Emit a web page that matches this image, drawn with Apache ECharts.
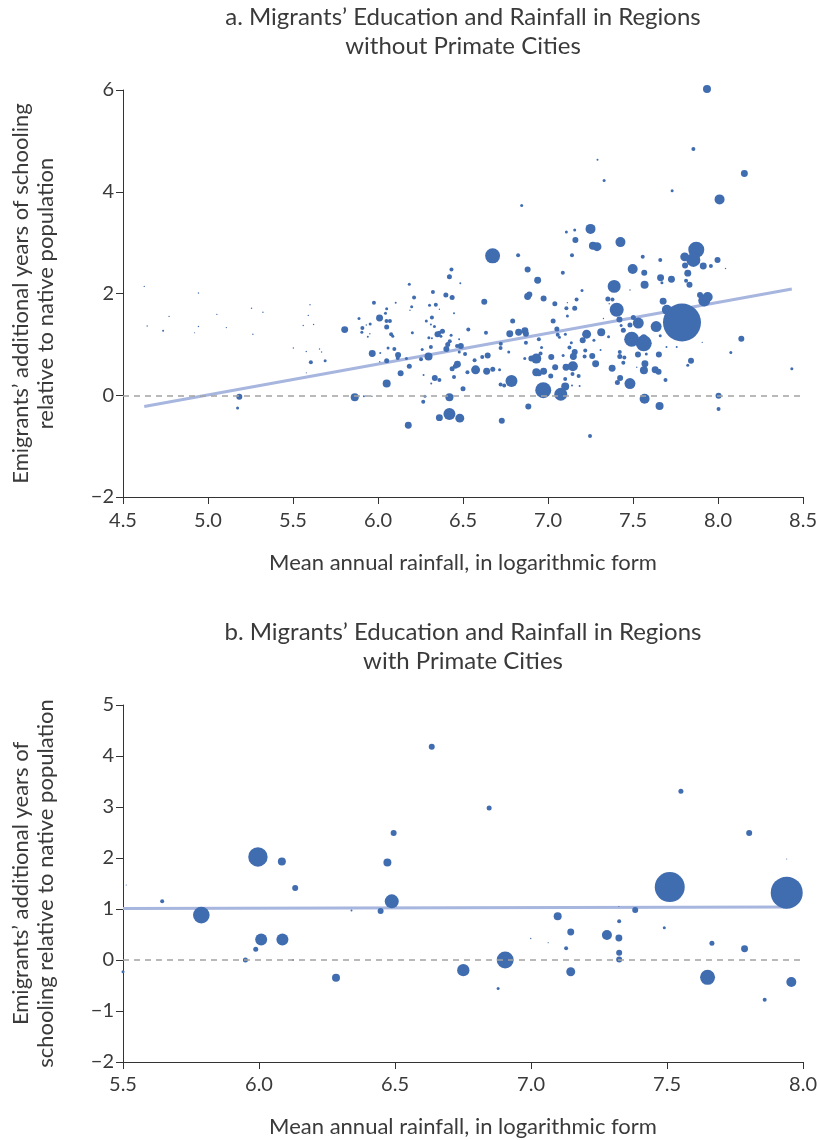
<!DOCTYPE html>
<html><head><meta charset="utf-8">
<script src="https://cdn.jsdelivr.net/npm/echarts@6/dist/echarts.min.js"></script>
<style>html,body{margin:0;padding:0;background:#fff}#c{width:820px;height:1140px}</style>
</head><body><div id="c"></div>
<script>
// ---------- Panel a: regions without primate cities ----------
const titleA = 'a. Migrants’ Education and Rainfall in Regions\nwithout Primate Cities';
const yNameA = 'Emigrants’ additional years of schooling\nrelative to native population';
const xName = 'Mean annual rainfall, in logarithmic form';
const xTicksA = [4.5, 8.5, 0.5];
const yTicksA = [-2, 6, 2];
// [log rainfall, additional years of schooling, relative population weight]
const pointsA = [
[4.625,2.14,0.5],[4.642,1.36,0.5],[4.736,1.27,1],[4.771,1.55,0.5],[4.944,2.01,0.5],[4.944,1.35,0.5],[4.921,1.23,0.3],
[5.052,1.59,0.5],[5.108,1.33,0.5],[5.184,-0.03,9],[5.174,-0.25,2.25],[5.256,1.71,0.5],[5.264,1.20,0.5],[5.323,1.63,0.5],
[5.502,0.93,0.5],[5.56,1.37,0.5],[5.60,1.78,0.5],[5.59,1.57,0.5],[5.621,1.39,0.5],[5.578,0.86,0.5],[5.605,0.65,4],
[5.656,0.91,0.5],[5.668,0.85,0.5],[5.689,0.68,2.25],[5.578,0.44,0.3],[5.804,1.29,12],
[5.863,-0.04,16],[5.917,-0.02,1],[5.964,-0.02,0.5],[5.976,1.82,4],[5.888,1.51,2.25],[5.908,1.32,4],[5.905,1.24,2.25],
[5.931,1.38,0.5],[5.954,1.40,2.25],[5.952,1.21,0.5],[5.94,1.15,1],[6.009,1.52,12],[6.044,1.61,2.25],[6.051,1.70,2.25],
[6.05,1.46,4],[6.07,1.46,4],[6.051,1.34,6.25],[6.077,1.20,4],[6.087,1.16,2.25],[6.104,1.82,1],[6.184,2.18,2.25],
[6.212,1.92,4],[6.198,1.74,2.25],[6.188,1.67,0.5],[5.966,0.82,12],[6.013,0.83,1],[6.051,0.68,6.25],[6.059,0.93,2.25],
[6.096,0.91,4],[6.118,0.79,9],[6.116,0.73,4],[6.167,0.72,2.25],[6.01,0.66,0.5],[6.184,0.57,6.25],[6.133,0.43,9],
[6.051,0.23,16],[6.202,1.23,2.25],[6.268,0.40,1],[6.253,0.71,4],[6.26,0.90,2.25],[6.297,0.76,16],[6.323,2.03,4],
[6.303,1.77,2.25],[6.34,1.78,4],[6.361,1.69,0.5],[6.284,1.46,2.25],[6.317,1.53,4],[6.311,1.39,1],[6.332,1.35,2.25],
[6.299,1.13,2.25],[6.317,1.12,1],[6.311,0.95,4],[6.334,0.34,9],[6.361,0.30,4],[6.313,0.23,1],[6.276,-0.02,2.25],
[6.266,-0.13,4],[6.35,1.20,9],[6.361,1.23,4],[6.379,1.26,6.25],[6.37,1.16,2.25],[6.399,1.97,6.25],[6.42,2.33,6.25],
[6.432,2.47,4],[6.436,1.92,6.25],[6.447,1.61,1],[6.484,2.20,1],[6.43,1.18,2.25],[6.422,1.06,4],[6.41,1.00,6.25],
[6.402,0.91,9],[6.477,1.10,1],[6.465,0.97,4],[6.487,0.97,9],[6.478,0.85,2.25],[6.512,0.81,4],[6.531,1.29,4],
[6.467,0.61,12],[6.455,0.57,6.25],[6.436,0.52,6.25],[6.447,0.36,4],[6.5,0.13,6.25],[6.42,-0.04,16],[6.42,-0.37,36],
[6.361,-0.44,12],[6.481,-0.45,20],[6.178,-0.59,12],[6.568,0.69,4],[6.574,0.50,20],[6.526,0.45,4],[6.625,1.84,9],
[6.635,1.23,4],[6.613,0.75,4],[6.645,0.78,9],[6.639,0.47,12],[6.675,0.51,6.25],[6.715,0.50,2.25],[6.722,1.01,4],
[6.721,0.93,4],[6.769,0.85,2.25],[6.775,1.21,12],[6.792,1.46,6.25],[6.785,0.28,36],[6.721,0.21,4],[6.742,0.19,4],
[6.728,-0.50,9],[6.827,1.24,12],[6.864,1.27,12],[6.87,1.21,9],[6.87,1.03,4],[6.88,1.94,12],[6.89,1.98,9],
[6.939,2.26,12],[6.974,1.90,9],[6.88,2.47,9],[6.946,1.10,4],[6.962,0.94,2.25],[6.863,0.72,2.25],[6.902,0.72,9],
[6.931,0.72,25],[6.956,0.82,4],[6.931,0.45,16],[6.974,0.47,12],[6.946,0.43,9],[7.019,0.75,9],[7.042,0.55,9],
[7.016,0.38,6.25],[6.972,0.10,64],[6.884,-0.22,9],[7.075,0.02,42],[7.101,0.17,16],[7.04,1.80,6.25],[7.087,2.41,4],
[7.03,1.46,6.25],[7.052,1.30,6.25],[7.057,1.19,4],[7.067,1.14,2.25],[7.108,1.71,4],[7.106,0.55,12],[7.101,0.32,4],
[7.25,3.27,25],[7.108,3.21,2.25],[7.157,3.25,2.25],[7.161,3.05,9],[7.141,2.75,4],[7.264,2.94,16],[7.288,2.92,20],
[7.426,3.01,25],[7.2,2.06,2.25],[7.168,1.88,4],[7.114,1.82,0.5],[7.157,1.71,6.25],[7.114,1.56,2.25],[7.102,1.20,2.25],
[7.227,1.20,20],[7.204,1.08,9],[7.27,1.08,2.25],[7.313,1.24,16],[7.356,1.15,2.25],[7.137,1.03,2.25],[7.126,0.94,4],
[7.157,0.85,9],[7.149,0.76,12],[7.089,0.78,2.25],[7.215,0.76,4],[7.219,0.88,4],[7.26,0.77,9],[7.309,0.89,1],
[7.146,0.57,25],[7.28,0.62,12],[7.144,0.42,4],[7.18,0.38,4],[7.141,0.19,1],[7.186,0.18,1],[7.247,-0.80,4],
[7.389,2.14,42],[7.498,2.48,25],[7.566,2.41,9],[7.557,2.72,4],[7.66,2.66,4],[7.662,2.31,12],[7.67,2.21,2.25],
[7.726,2.28,12],[7.568,2.17,16],[7.482,2.07,0.5],[7.404,1.68,49],[7.352,1.89,6.25],[7.379,1.88,4],[7.36,1.80,0.5],
[7.42,1.49,9],[7.326,1.51,0.5],[7.502,1.53,6.25],[7.531,1.42,30],[7.482,1.38,6.25],[7.43,1.37,2.25],[7.443,1.28,6.25],
[7.492,1.10,56],[7.563,1.02,64],[7.563,1.14,9],[7.636,1.35,30],[7.66,1.17,2.25],[7.677,1.85,12],[7.699,1.68,25],
[7.788,1.43,361],[7.872,2.86,64],[7.855,2.66,49],[7.804,2.72,20],[7.806,2.55,9],[7.913,2.54,12],[7.958,2.54,4],
[7.997,2.66,9],[8.044,2.49,0.5],[7.822,2.40,12],[7.812,2.25,4],[7.832,2.17,9],[7.894,1.97,9],[7.919,1.86,36],
[7.939,1.93,25],[7.697,0.95,1],[7.757,0.95,1],[7.907,1.04,0.5],[8.137,1.11,9],[8.075,0.84,2.25],[8.434,0.52,2.25],
[7.841,0.68,9],[7.822,0.59,2.25],[7.529,0.80,9],[7.578,0.81,2.25],[7.652,0.80,9],[7.422,0.85,4],[7.422,0.76,6.25],
[7.449,0.74,4],[7.443,0.64,4],[7.377,0.53,12],[7.522,0.55,0.5],[7.57,0.62,12],[7.564,0.49,16],[7.63,0.50,12],
[7.65,0.46,9],[7.691,0.30,4],[7.424,0.34,9],[7.408,0.25,6.25],[7.482,0.23,30],[7.568,-0.07,25],[7.656,-0.21,16],
[8.003,-0.01,9],[8.003,-0.27,4],
[7.935,6.02,16],[7.855,4.84,4],[8.155,4.36,12],[8.009,3.85,25],[7.73,4.02,2.25],[7.291,4.63,1],[7.33,4.22,2.25],
[6.845,3.73,2.25],[6.674,2.74,56],[6.824,2.75,4]
];
const fitA = [[4.625,-0.22],[8.434,2.09]];

// ---------- Panel b: regions with primate cities ----------
const titleB = 'b. Migrants’ Education and Rainfall in Regions\nwith Primate Cities';
const yNameB = 'Emigrants’ additional years of\nschooling relative to native population';
const xTicksB = [5.5, 8.0, 0.5];
const yTicksB = [-2, 5, 1];
const pointsB = [
[5.512,1.47,0.3],[5.50,-0.23,2.25],[5.644,1.15,4],[5.788,0.88,69],[5.996,2.02,94],[6.084,1.93,16],[6.133,1.41,9],
[6.008,0.40,36],[6.086,0.40,36],[5.988,0.21,6.25],[5.95,0.0,6.25],[6.125,0.0,1],[6.283,-0.35,16],[6.34,0.97,1],
[6.447,0.96,9],[6.472,1.91,16],[6.495,2.49,9],[6.488,1.15,49],[6.635,4.18,9],[6.751,-0.20,38],[6.846,2.98,6.25],
[6.879,-0.56,2.25],[6.905,0.0,72],[6.999,0.42,0.5],[7.063,0.34,0.3],[7.098,0.86,16],[7.129,0.23,4],[7.146,0.55,12],
[7.146,-0.23,20],[7.279,0.49,25],[7.323,1.05,0.3],[7.324,0.76,4],[7.323,0.43,12],[7.324,0.14,9],[7.324,0.01,9],
[7.383,0.98,9],[7.49,0.63,2.25],[7.51,1.43,225],[7.551,3.31,6.25],[7.649,-0.34,56],[7.665,0.33,6.25],[7.785,0.22,12],
[7.802,2.49,9],[7.859,-0.78,4],[7.94,1.98,0.3],[7.94,1.32,256],[7.957,-0.43,25]
];
const fitB = [[5.5,1.01],[7.944,1.04]];

// ---------- styles ----------
const FONT = 'Lato';
const TXT = '#3a3a3a';
const DOT = '#406cb0';
const FIT = '#a7b6de';

const chart = echarts.init(document.getElementById('c'));

function xAxisCfg(gi, t, gap, margin) {
  return {
    type: 'value', gridIndex: gi, min: t[0], max: t[1], interval: t[2],
    name: xName, nameLocation: 'middle', nameGap: gap,
    nameTextStyle: {fontFamily: FONT, fontSize: 22, color: TXT},
    axisLine: {show: true, onZero: false, lineStyle: {color: '#333', width: 1}},
    axisTick: {show: true, length: 7, lineStyle: {color: '#333'}},
    axisLabel: {fontFamily: FONT, fontSize: 20, color: TXT, margin: margin, formatter: v => v.toFixed(1)},
    splitLine: {show: false}
  };
}
function yAxisCfg(gi, t, nm) {
  return {
    type: 'value', gridIndex: gi, min: t[0], max: t[1], interval: t[2],
    name: nm, nameLocation: 'middle', nameGap: 65, nameRotate: 90,
    nameTextStyle: {fontFamily: FONT, fontSize: 22, color: TXT, lineHeight: 25},
    axisLine: {show: true, onZero: false, lineStyle: {color: '#333', width: 1}},
    axisTick: {show: true, length: 7, lineStyle: {color: '#333'}},
    axisLabel: {fontFamily: FONT, fontSize: 20, color: TXT, margin: 9,
      formatter: v => (v < 0 ? '\u2212' + Math.abs(v) : String(v))},
    splitLine: {show: false}
  };
}
function zeroLine() {
  return {
    silent: true, symbol: ['none', 'none'], label: {show: false},
    lineStyle: {type: [6, 5], color: '#a3a3a3', width: 1.5},
    data: [{yAxis: 0}]
  };
}

chart.setOption({
  animation: false,
  backgroundColor: '#fff',
  graphic: [
    {type: 'text', x: 463, y: 3, style: {text: titleA, font: '24px ' + FONT, fill: TXT, lineHeight: 29, align: 'center'}},
    {type: 'text', x: 463, y: 618, style: {text: titleB, font: '24px ' + FONT, fill: TXT, lineHeight: 29, align: 'center'}}
  ],
  grid: [
    {left: 121, right: 13, top: 90, height: 407},
    {left: 122, right: 16, top: 705, height: 357}
  ],
  xAxis: [xAxisCfg(0, xTicksA, 55, 14), xAxisCfg(1, xTicksB, 54, 13)],
  yAxis: [yAxisCfg(0, yTicksA, yNameA), yAxisCfg(1, yTicksB, yNameB)],
  series: [
    {type: 'line', xAxisIndex: 0, yAxisIndex: 0, data: fitA, symbol: 'none', z: 1,
     lineStyle: {color: FIT, width: 3}, markLine: zeroLine()},
    {type: 'scatter', xAxisIndex: 0, yAxisIndex: 0, data: pointsA, z: 3, clip: false,
     symbolSize: d => 2 * Math.sqrt(d[2]), itemStyle: {color: DOT, opacity: 1}},
    {type: 'line', xAxisIndex: 1, yAxisIndex: 1, data: fitB, symbol: 'none', z: 1,
     lineStyle: {color: FIT, width: 3}, markLine: zeroLine()},
    {type: 'scatter', xAxisIndex: 1, yAxisIndex: 1, data: pointsB, z: 3, clip: false,
     symbolSize: d => 2 * Math.sqrt(d[2]), itemStyle: {color: DOT, opacity: 1}}
  ]
});
</script>
</body></html>
